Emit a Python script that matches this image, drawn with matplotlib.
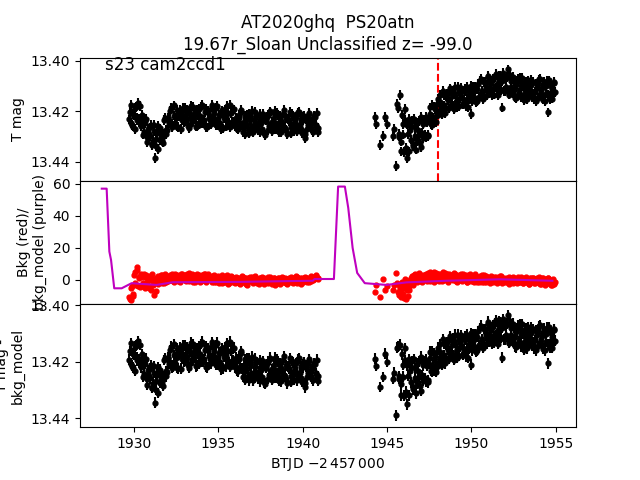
import numpy as np
import matplotlib
matplotlib.use("Agg")
import matplotlib.pyplot as plt

MAG_ZERO = 13.4          # magnitudes below are offsets from this, in units of 1e-4 mag
MAG_ERR = 0.0019
T_EVENT = 1948.0

# ---- orbit 1 timestamps (BTJD - 2457000), two interleaved readouts
t_orb1 = [1929.72, 1929.80, 1929.88, 1929.96, 1930.04, 1930.12, 1930.20, 1930.28, 1930.36, 1930.44,
          1930.52, 1930.60, 1930.68, 1930.76, 1930.84, 1930.92, 1931.00, 1931.08, 1931.16, 1931.24,
          1931.32, 1931.40, 1931.48, 1931.56, 1931.64, 1931.72, 1931.80, 1931.88, 1931.96, 1932.04,
          1932.12, 1932.20, 1932.28, 1932.36, 1932.44, 1932.52, 1932.60, 1932.68, 1932.76, 1932.84,
          1932.92, 1933.00, 1933.08, 1933.16, 1933.24, 1933.32, 1933.40, 1933.48, 1933.56, 1933.64,
          1933.72, 1933.80, 1933.88, 1933.96, 1934.04, 1934.12, 1934.20, 1934.28, 1934.36, 1934.44,
          1934.52, 1934.60, 1934.68, 1934.76, 1934.84, 1934.92, 1935.00, 1935.08, 1935.16, 1935.24,
          1935.32, 1935.40, 1935.48, 1935.56, 1935.64, 1935.72, 1935.80, 1935.88, 1935.96, 1936.04,
          1936.12, 1936.20, 1936.28, 1936.36, 1936.44, 1936.52, 1936.60, 1936.68, 1936.76, 1936.84,
          1936.92, 1937.00, 1937.08, 1937.16, 1937.24, 1937.32, 1937.40, 1937.48, 1937.56, 1937.64,
          1937.72, 1937.80, 1937.88, 1937.96, 1938.04, 1938.12, 1938.20, 1938.28, 1938.36, 1938.44,
          1938.52, 1938.60, 1938.68, 1938.76, 1938.84, 1938.92, 1939.00, 1939.08, 1939.16, 1939.24,
          1939.32, 1939.40, 1939.48, 1939.56, 1939.64, 1939.72, 1939.80, 1939.88, 1939.96, 1940.04,
          1940.12, 1940.20, 1940.28, 1940.36, 1940.44, 1940.52, 1940.60, 1940.68, 1940.76, 1940.84, 1940.92]
t_orb1b = [1929.76, 1929.84, 1929.92, 1930.00, 1930.08, 1930.16, 1930.24, 1930.32, 1930.40, 1930.48,
           1930.56, 1930.64, 1930.72, 1930.80, 1930.88, 1930.96, 1931.04, 1931.12, 1931.20, 1931.28,
           1931.36, 1931.44, 1931.52, 1931.60, 1931.68, 1931.76, 1931.84, 1931.92, 1932.00, 1932.08,
           1932.16, 1932.24, 1932.32, 1932.40, 1932.48, 1932.56, 1932.64, 1932.72, 1932.80, 1932.88,
           1932.96, 1933.04, 1933.12, 1933.20, 1933.28, 1933.36, 1933.44, 1933.52, 1933.60, 1933.68,
           1933.76, 1933.84, 1933.92, 1934.00, 1934.08, 1934.16, 1934.24, 1934.32, 1934.40, 1934.48,
           1934.56, 1934.64, 1934.72, 1934.80, 1934.88, 1934.96, 1935.04, 1935.12, 1935.20, 1935.28,
           1935.36, 1935.44, 1935.52, 1935.60, 1935.68, 1935.76, 1935.84, 1935.92, 1936.00, 1936.08,
           1936.16, 1936.24, 1936.32, 1936.40, 1936.48, 1936.56, 1936.64, 1936.72, 1936.80, 1936.88,
           1936.96, 1937.04, 1937.12, 1937.20, 1937.28, 1937.36, 1937.44, 1937.52, 1937.60, 1937.68,
           1937.76, 1937.84, 1937.92, 1938.00, 1938.08, 1938.16, 1938.24, 1938.32, 1938.40, 1938.48,
           1938.56, 1938.64, 1938.72, 1938.80, 1938.88, 1938.96, 1939.04, 1939.12, 1939.20, 1939.28,
           1939.36, 1939.44, 1939.52, 1939.60, 1939.68, 1939.76, 1939.84, 1939.92, 1940.00, 1940.08,
           1940.16, 1940.24, 1940.32, 1940.40, 1940.48, 1940.56, 1940.64, 1940.72, 1940.80, 1940.88]

# ---- orbit 2 timestamps
t_orb2 = [1944.30, 1944.36, 1944.60, 1944.77, 1944.90, 1944.97, 1945.36, 1945.42, 1945.52,
          1945.60, 1945.68, 1945.76, 1945.84, 1945.92, 1946.00, 1946.08, 1946.16, 1946.24, 1946.32,
          1946.40, 1946.48, 1946.56, 1946.64, 1946.72, 1946.80, 1946.88, 1946.96, 1947.04, 1947.12,
          1947.20, 1947.28, 1947.36, 1947.44, 1947.52, 1947.60, 1947.68, 1947.76, 1947.84, 1947.92,
          1948.00, 1948.08, 1948.16, 1948.24, 1948.32, 1948.40, 1948.48, 1948.56, 1948.64, 1948.72,
          1948.80, 1948.88, 1948.96, 1949.04, 1949.12, 1949.20, 1949.28, 1949.36, 1949.44, 1949.52,
          1949.60, 1949.68, 1949.76, 1949.84, 1949.92, 1950.00, 1950.08, 1950.16, 1950.24, 1950.32,
          1950.40, 1950.48, 1950.56, 1950.64, 1950.72, 1950.80, 1950.88, 1950.96, 1951.04, 1951.12,
          1951.20, 1951.28, 1951.36, 1951.44, 1951.52, 1951.60, 1951.68, 1951.76, 1951.84, 1951.92,
          1952.00, 1952.08, 1952.16, 1952.24, 1952.32, 1952.40, 1952.48, 1952.56, 1952.64, 1952.72,
          1952.80, 1952.88, 1952.96, 1953.04, 1953.12, 1953.20, 1953.28, 1953.36, 1953.44, 1953.52,
          1953.60, 1953.68, 1953.76, 1953.84, 1953.92, 1954.00, 1954.08, 1954.16, 1954.24, 1954.32,
          1954.40, 1954.48, 1954.56, 1954.64, 1954.72, 1954.80, 1954.88, 1954.96]
t_orb2b = [1945.64, 1945.72, 1945.80, 1945.88, 1945.96, 1946.04, 1946.12, 1946.20, 1946.28, 1946.36,
           1946.44, 1946.52, 1946.60, 1946.68, 1946.76, 1946.84, 1946.92, 1947.00, 1947.08, 1947.16,
           1947.24, 1947.32, 1947.40, 1947.48, 1947.56, 1947.64, 1947.72, 1947.80, 1947.88, 1947.96,
           1948.04, 1948.12, 1948.20, 1948.28, 1948.36, 1948.44, 1948.52, 1948.60, 1948.68, 1948.76,
           1948.84, 1948.92, 1949.00, 1949.08, 1949.16, 1949.24, 1949.32, 1949.40, 1949.48, 1949.56,
           1949.64, 1949.72, 1949.80, 1949.88, 1949.96, 1950.04, 1950.12, 1950.20, 1950.28, 1950.36,
           1950.44, 1950.52, 1950.60, 1950.68, 1950.76, 1950.84, 1950.92, 1951.00, 1951.08, 1951.16,
           1951.24, 1951.32, 1951.40, 1951.48, 1951.56, 1951.64, 1951.72, 1951.80, 1951.88, 1951.96,
           1952.04, 1952.12, 1952.20, 1952.28, 1952.36, 1952.44, 1952.52, 1952.60, 1952.68, 1952.76,
           1952.84, 1952.92, 1953.00, 1953.08, 1953.16, 1953.24, 1953.32, 1953.40, 1953.48, 1953.56,
           1953.64, 1953.72, 1953.80, 1953.88, 1953.96, 1954.04, 1954.12, 1954.20, 1954.28, 1954.36,
           1954.44, 1954.52, 1954.60, 1954.68, 1954.76, 1954.84, 1954.92]

# ---- T mag (top panel), 1e-4 mag offsets from 13.4
tmag_orb1 = [232, 175, 254, 212, 271, 183, 225, 242, 179, 252,
             242, 283, 234, 321, 270, 299, 253, 331, 280, 385,
             338, 259, 273, 314, 285, 324, 234, 274, 275, 225,
             245, 187, 262, 217, 245, 194, 263, 221, 201, 234,
             187, 240, 226, 195, 267, 210, 251, 182, 230, 203,
             258, 216, 191, 246, 174, 235, 205, 263, 197, 225,
             249, 184, 232, 208, 255, 178, 243, 215, 271, 199,
             228, 193, 261, 208, 247, 174, 243, 197, 260, 225,
             269, 216, 251, 202, 261, 242, 289, 226, 271, 209,
             258, 198, 280, 234, 265, 217, 250, 284, 230, 212,
             287, 237, 224, 275, 206, 261, 241, 270, 200, 256,
             215, 282, 232, 249, 209, 268, 227, 291, 239, 203,
             264, 218, 278, 236, 253, 205, 272, 230, 285, 223,
             305, 233, 269, 211, 260, 243, 281, 220, 255, 207, 265]
tmag_orb1b = [202, 247, 261, 214, 187, 235, 168, 230, 260, 214,
              292, 247, 229, 300, 290, 264, 333, 317, 255, 309,
              286, 350, 268, 290, 312, 290, 227, 291, 228, 247,
              199, 251, 256, 177, 225, 261, 207, 194, 270, 216,
              243, 188, 232, 257, 200, 178, 238, 226, 210, 261,
              196, 253, 217, 182, 246, 235, 191, 264, 205, 220,
              251, 175, 240, 229, 186, 256, 213, 245, 197, 268,
              209, 224, 180, 250, 262, 206, 240, 193, 253, 232,
              271, 226, 196, 257, 284, 218, 250, 213, 288, 235,
              222, 281, 254, 204, 262, 273, 210, 245, 269, 226,
              293, 237, 215, 260, 201, 278, 251, 225, 272, 208,
              257, 219, 284, 242, 196, 266, 275, 231, 239, 286,
              212, 263, 248, 221, 280, 203, 255, 271, 234, 217,
              290, 229, 253, 206, 267, 276, 238, 224, 259, 282]
tmag_orb2 = [222, 250, 333, 297, 224, 252, 297, 270, 416,
             170, 290, 135, 320, 250, 360, 235, 385, 290, 230,
             312, 237, 337, 262, 352, 247, 292, 327, 222, 307,
             235, 301, 242, 298, 209, 250, 176, 242, 193, 220,
             150, 200, 165, 210, 121, 177, 188, 130, 157, 110,
             174, 118, 192, 131, 155, 105, 180, 139, 119, 173,
             122, 181, 105, 154, 128, 210, 104, 151, 118, 160,
             91, 142, 73, 120, 142, 84, 107, 65, 129, 83,
             137, 71, 110, 54, 113, 87, 61, 115, 186, 70,
             120, 70, 35, 134, 81, 123, 65, 112, 149, 81,
             128, 69, 145, 101, 157, 87, 117, 78, 138, 98,
             144, 84, 124, 159, 94, 74, 134, 109, 154, 89,
             130, 80, 205, 140, 100, 150, 85, 125]
tmag_orb2b = [187, 300, 359, 213, 292, 192, 346, 253, 359, 274,
              257, 330, 230, 297, 318, 274, 238, 342, 287, 252,
              293, 224, 294, 232, 185, 254, 226, 181, 243, 171,
              216, 137, 180, 193, 135, 206, 140, 150, 189, 115,
              141, 179, 104, 165, 185, 121, 147, 107, 171, 157,
              110, 152, 185, 121, 99, 160, 140, 103, 165, 112,
              149, 81, 129, 151, 84, 97, 135, 59, 107, 121,
              80, 134, 66, 106, 137, 59, 112, 81, 50, 121,
              106, 65, 133, 57, 104, 129, 81, 146, 93, 73,
              133, 104, 68, 145, 125, 82, 153, 95, 116, 77,
              133, 153, 90, 107, 146, 71, 124, 141, 83, 159,
              101, 137, 78, 151, 113, 133, 87]

# ---- T mag - bkg_model (bottom panel), 1e-4 mag offsets from 13.4
sub_orb1 = [192, 135, 214, 172, 231, 143, 185, 202, 139, 212,
            202, 243, 194, 281, 230, 259, 213, 291, 240, 345,
            298, 219, 233, 274, 245, 284, 194, 234, 235, 185,
            205, 147, 222, 177, 205, 154, 223, 176, 156, 189,
            142, 195, 181, 150, 222, 165, 206, 137, 185, 158,
            213, 171, 146, 201, 129, 190, 160, 218, 152, 180,
            204, 139, 187, 163, 210, 133, 198, 170, 226, 154,
            183, 148, 216, 163, 202, 129, 198, 154, 219, 186,
            231, 180, 217, 170, 231, 214, 263, 202, 249, 189,
            240, 182, 265, 219, 250, 202, 235, 269, 215, 197,
            272, 222, 209, 260, 191, 246, 226, 255, 185, 241,
            200, 267, 217, 234, 194, 253, 212, 276, 224, 188,
            249, 203, 263, 221, 238, 190, 257, 215, 270, 208,
            290, 218, 254, 196, 245, 228, 266, 205, 240, 192, 250]
sub_orb1b = [162, 207, 221, 174, 147, 195, 128, 190, 220, 174,
             252, 207, 189, 260, 250, 224, 293, 277, 215, 269,
             246, 310, 228, 250, 272, 250, 187, 251, 188, 207,
             159, 211, 216, 137, 185, 221, 167, 149, 225, 171,
             198, 143, 187, 212, 155, 133, 193, 181, 165, 216,
             151, 208, 172, 137, 201, 190, 146, 219, 160, 175,
             206, 130, 195, 184, 141, 211, 168, 200, 152, 223,
             164, 179, 135, 205, 217, 161, 195, 150, 212, 193,
             233, 190, 162, 225, 254, 190, 224, 189, 266, 215,
             204, 265, 239, 189, 247, 258, 195, 230, 254, 211,
             278, 222, 200, 245, 186, 263, 236, 210, 257, 193,
             242, 204, 269, 227, 181, 251, 260, 216, 224, 271,
             197, 248, 233, 206, 265, 188, 240, 256, 219, 202,
             275, 214, 238, 191, 252, 261, 223, 209, 244, 267]
sub_orb2 = [189, 215, 289, 254, 172, 200, 260, 238, 389,
            150, 250, 140, 280, 210, 320, 195, 350, 250, 190,
            272, 197, 297, 222, 312, 207, 252, 287, 182, 267,
            200, 269, 214, 273, 188, 232, 162, 231, 186, 216,
            150, 200, 165, 210, 121, 177, 188, 130, 157, 110,
            174, 118, 192, 131, 155, 105, 180, 139, 119, 173,
            122, 181, 105, 154, 128, 210, 104, 151, 118, 160,
            91, 142, 73, 120, 142, 84, 107, 65, 129, 83,
            137, 71, 110, 54, 113, 87, 61, 115, 186, 70,
            120, 70, 35, 134, 81, 123, 65, 112, 149, 81,
            128, 69, 145, 101, 157, 87, 117, 78, 138, 98,
            144, 84, 124, 159, 94, 74, 134, 109, 154, 89,
            130, 80, 205, 140, 100, 150, 85, 125]
sub_orb2b = [147, 260, 319, 173, 252, 152, 306, 213, 319, 234,
             217, 290, 190, 257, 278, 234, 198, 302, 247, 212,
             258, 192, 266, 207, 164, 236, 212, 170, 236, 167,
             216, 137, 180, 193, 135, 206, 140, 150, 189, 115,
             141, 179, 104, 165, 185, 121, 147, 107, 171, 157,
             110, 152, 185, 121, 99, 160, 140, 103, 165, 112,
             149, 81, 129, 151, 84, 97, 135, 59, 107, 121,
             80, 134, 66, 106, 137, 59, 112, 81, 50, 121,
             106, 65, 133, 57, 104, 129, 81, 146, 93, 73,
             133, 104, 68, 145, 125, 82, 153, 95, 116, 77,
             133, 153, 90, 107, 146, 71, 124, 141, 83, 159,
             101, 137, 78, 151, 113, 133, 87]

# ---- background (middle panel, red points)
bkg_orb1 = [-10.5, -12.5, -4, -9, 5, -3, 8, 2, -4.5, 3,
            -2, 4, -5, 1, -3.5, 2.5, -6, 0.5, -9.5, -1,
            1.5, -2.5, 2, -1, 3, 0, -2, 2.5, 1, -0.5,
            3, 0, 2, -1, 3.5, 1, -0.5, 2.5, 0.5, 4,
            1, 3, -0.5, 2, 4.5, 0.5, 2.5, -1, 3, 1.5,
            3.5, 0, 2, -0.5, 3, 1, 4, -1, 2, 0.5,
            2, -1, 1.5, 3, -1.5, 0.5, 2.5, -0.5, 1, -2,
            1.5, -1, 2.5, 0, -2, 1, 2, -1.5, 0.5, 2,
            -1, 1.5, -2.5, 0.5, 2, -1.5, 1, -3, 0.5, 1.5,
            -0.5, 2, -2, 0, 1.5, -1, -2.5, 1, 0, -1.5,
            1.5, -1, 0.5, -2, 2, -0.5, -1.5, 1, -3, 0.5,
            -1, 1.5, -2, 0, 1, -1.5, 0.5, -2.5, 1.5, -0.5,
            0.5, -2, 1, -1, 2, -0.5, -1.5, 0.5, 1.5, -1,
            0, 1, -1.5, 0.5, 1.5, -0.5, 2, 0.5, 2.5, 1, 1.5]
bkg_orb1b = [-12, -5, -10, 3, -2, 6, -4, 1, 4, -3.5,
             2, -4, 3, -1.5, -5, 0, 3.5, -3, -2, -7,
             -1, 2.5, 0, 3, -2, 1.5, 4, -1, 2, 0.5,
             1.5, 4, -0.5, 2, 0, 3, 1.5, -1, 3.5, 2,
             2.5, 0, 3.5, 1, -0.5, 2, 4, 1.5, -1, 2.5,
             1, 3, -1, 2.5, 0.5, 3.5, -0.5, 2, 4, 1,
             0, 2.5, -1.5, 1, 2, 0, -2, 1.5, 3, -0.5,
             -1, 1, 3, -2.5, 0.5, 2.5, -0.5, 1, -2, 1.5,
             0.5, -2, 1, 2.5, -1, 0, -2.5, 1.5, -0.5, 2,
             1, -1.5, 0.5, 2.5, -2, -0.5, 1.5, -1, 2, -2.5,
             -1, 0.5, 2, -1.5, 1, -2.5, 0, 1.5, -0.5, -2,
             1, -2.5, 0, 2, -1, 1.5, -2, 0.5, -1, 2,
             -1.5, 1, -0.5, 2.5, -2, 0, 1, -2.5, 0.5, 1.5,
             2, 0.5, 1, -1, 2.5, 1, 0, 1.5, 3, 0.5]
bkg_orb2 = [-7.3, -3, -10.4, 0.4, -6.5, -4, -6.5, -3, 4.2,
            -2, -9.4, -5, -7, -3, -11.4, 0.5, -6, -10, -4,
            -1, 2.5, -3, 3.5, 0, 1.5, 4, -0.5, 2, 3,
            1, 4, -0.5, 2.5, 5, 0.5, 3, -1, 2, 4.5,
            2, -0.5, 3.5, 1, 5, 0, 2.5, 4, -1, 1.5,
            3, 0, 4.5, 1.5, -1, 2.5, 0.5, 3.5, -0.5, 2,
            0.5, 3, -1, 2, 3.5, -0.5, 1.5, -1.5, 2.5, 0,
            2, -1, 1, 3, -1.5, 0.5, 2.5, -0.5, 1.5, -2,
            1, -1.5, 2, 0, -2, 1.5, -0.5, 2.5, -1, 0.5,
            -1, 1.5, 0, -2.5, 1, -0.5, 2, -1.5, 0.5, -2,
            1, -1, 2, -2, 0, 1.5, -1.5, 0.5, -2.5, 1,
            -0.5, 1.5, -2, 0.5, -1, 2, -2.5, 0, 1, -1.5,
            0.5, -2, 1.5, -1, -3, 0, -2.5, -1]
bkg_orb2b = [-7.5, -3, -10.5, -1, -8.5, -5, -12, -2, -6.5, 0,
             1.5, -2, 3, 0.5, -1.5, 2.5, 4.5, 0, -1, 2,
             3, 0.5, 4.5, 2, -0.5, 3.5, 1, 5, 2.5, 0,
             4, 1, 2.5, -0.5, 3, 4.5, 1.5, 0, 3.5, 2,
             0.5, 2.5, 4, -0.5, 1.5, 3, 0, 2, 4, 1,
             2.5, -1, 1, 3, 0, 2, -0.5, 3.5, 1, -1.5,
             1, 2.5, -1, 0.5, 3, -1.5, 2, 0, -0.5, 2.5,
             -0.5, 1.5, 0, 2, -1.5, 0.5, 2.5, -2, 1, -0.5,
             0.5, -1.5, 2, -0.5, 1, -2, 1.5, 0, -1, 2,
             -1.5, 0.5, 1.5, -2, 0, 2, -1, -2.5, 1, 0,
             1.5, -2, 0, 1, -1.5, 0.5, -2.5, 1.5, -0.5, -3,
             0, 1, -2, -0.5, -3, 0.5, -1.5]

# ---- background model (middle panel, purple line)
t_model = [1928.09, 1928.38, 1928.54, 1928.64, 1928.83, 1929.27, 1929.86, 1930.5, 1931.34,
           1932.3, 1934.0, 1936.3, 1939.2, 1940.6, 1940.7, 1941.85, 1942.1, 1942.5, 1942.7,
           1942.96, 1943.23, 1943.68, 1944.97, 1946.15, 1948.5, 1951.7, 1954.8]
bkg_model = [57, 57, 17.7, 12.5, -5.2, -5.2, -2, -2.5, -3.1,
             -1.4, -1.3, -1.2, -0.7, -0.5, 0.6, 0.6, 58.3, 58.3, 45,
             20, 4.4, -2, -3.1, -1.5, -0.5, 0.4, -0.5]

t_all = np.array(t_orb1 + t_orb1b + t_orb2 + t_orb2b)
tmag = MAG_ZERO + np.array(tmag_orb1 + tmag_orb1b + tmag_orb2 + tmag_orb2b) / 1e4
sub = MAG_ZERO + np.array(sub_orb1 + sub_orb1b + sub_orb2 + sub_orb2b) / 1e4
bkg = np.array(bkg_orb1 + bkg_orb1b + bkg_orb2 + bkg_orb2b)

fig, (ax1, ax2, ax3) = plt.subplots(3, 1, sharex=True, figsize=(6.4, 4.8), dpi=100)
fig.subplots_adjust(hspace=0)

ax1.errorbar(t_all, tmag, yerr=MAG_ERR, fmt='o', color='k', ms=3.5)
ax1.axvline(T_EVENT, color='r', ls='--')
ax1.set_ylim(13.4475, 13.3988)
ax1.set_yticks([13.40, 13.42, 13.44])
ax1.set_ylabel('T mag')
ax1.set_title('AT2020ghq  PS20atn\n19.67r_Sloan Unclassified z= -99.0')
ax1.text(0.05, 0.9, 's23 cam2ccd1', transform=ax1.transAxes, fontsize=12)

ax2.plot(t_all, bkg, 'o', color='r', ms=3.5)
ax2.plot(t_model, bkg_model, color='m')
ax2.set_ylim(-15, 61.9)
ax2.set_yticks([0, 20, 40, 60])
ax2.set_ylabel('Bkg (red)/\nbkg_model (purple)')

ax3.errorbar(t_all, sub, yerr=MAG_ERR, fmt='o', color='k', ms=3.5)
ax3.set_ylim(13.4431, 13.3996)
ax3.set_yticks([13.40, 13.42, 13.44])
ax3.set_ylabel('T mag -\nbkg_model')
ax3.set_xlim(1926.8, 1956.2)
ax3.set_xticks([1930, 1935, 1940, 1945, 1950, 1955])
ax3.set_xlabel(r'BTJD $-2\,457\,000$')

fig.savefig('out.png', dpi=100)
